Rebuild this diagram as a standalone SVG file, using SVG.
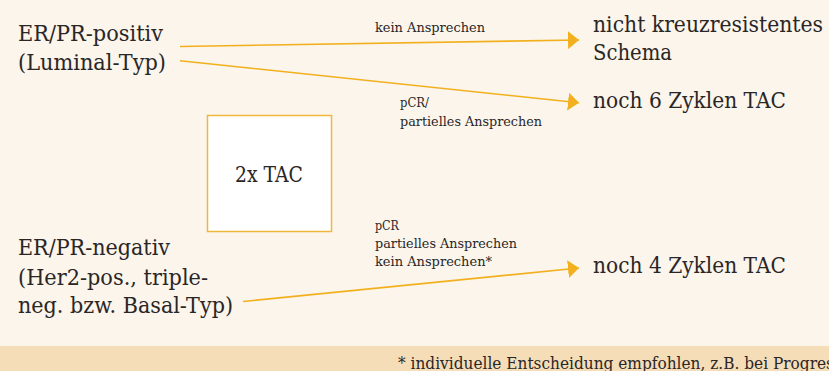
<svg xmlns="http://www.w3.org/2000/svg" width="829" height="371" viewBox="0 0 829 371">
<defs>
<style>
.big{font-family:"DejaVu Serif","Liberation Serif",serif;font-size:23px;fill:#2a2626}
.sm{font-family:"DejaVu Serif","Liberation Serif",serif;font-size:13.5px;fill:#2a2626}
.ft{font-family:"DejaVu Serif","Liberation Serif",serif;font-size:16.5px;fill:#2a2626}
.conn{stroke:#F2B01E;stroke-width:1.6;fill:none}
</style>
<marker id="ah" markerWidth="12" markerHeight="18" refX="11" refY="9" orient="auto" markerUnits="userSpaceOnUse">
<path d="M0,0 L11,9 L0,18 Z" fill="#F2B01E"/>
</marker>
</defs>
<rect x="0" y="0" width="829" height="371" fill="#FBF5EC"/>
<rect x="0" y="346" width="829" height="25" fill="#F5DDB8"/>

<g id="connectors">
<line class="conn" x1="180" y1="46.5" x2="579" y2="40" marker-end="url(#ah)"/>
<line class="conn" x1="180" y1="60.7" x2="579" y2="102.7" marker-end="url(#ah)"/>
<line class="conn" x1="243" y1="301.5" x2="579" y2="268" marker-end="url(#ah)"/>
<text class="sm" x="375" y="31.5" textLength="110" lengthAdjust="spacingAndGlyphs">kein Ansprechen</text>
<text class="sm" x="400" y="107" textLength="29" lengthAdjust="spacingAndGlyphs">pCR/</text>
<text class="sm" x="400" y="126" textLength="142" lengthAdjust="spacingAndGlyphs">partielles Ansprechen</text>
<text class="sm" x="375" y="230" textLength="24" lengthAdjust="spacingAndGlyphs">pCR</text>
<text class="sm" x="375" y="248" textLength="142" lengthAdjust="spacingAndGlyphs">partielles Ansprechen</text>
<text class="sm" x="375" y="266" textLength="117" lengthAdjust="spacingAndGlyphs">kein Ansprechen*</text>
</g>

<g id="er-pos">
<text class="big" x="18" y="41" textLength="145" lengthAdjust="spacingAndGlyphs">ER/PR-positiv</text>
<text class="big" x="18" y="70" textLength="148" lengthAdjust="spacingAndGlyphs">(Luminal-Typ)</text>
</g>

<g id="tac2x">
<rect x="207.5" y="115.5" width="124" height="116" fill="#FFFFFF" stroke="#F0B83A" stroke-width="1.5"/>
<text class="big" x="235" y="182" font-size="20" textLength="68" lengthAdjust="spacingAndGlyphs">2x TAC</text>
</g>

<g id="er-neg">
<text class="big" x="18" y="255" textLength="152" lengthAdjust="spacingAndGlyphs">ER/PR-negativ</text>
<text class="big" x="18" y="285" textLength="190" lengthAdjust="spacingAndGlyphs">(Her2-pos., triple-</text>
<text class="big" x="18" y="313" textLength="215" lengthAdjust="spacingAndGlyphs">neg. bzw. Basal-Typ)</text>
</g>

<g id="schema">
<text class="big" x="593" y="31.5" textLength="230" lengthAdjust="spacingAndGlyphs">nicht kreuzresistentes</text>
<text class="big" x="593" y="60" textLength="79" lengthAdjust="spacingAndGlyphs">Schema</text>
</g>

<g id="tac6">
<text class="big" x="593" y="108" textLength="193" lengthAdjust="spacingAndGlyphs">noch 6 Zyklen TAC</text>
</g>

<g id="tac4">
<text class="big" x="593" y="273" textLength="193" lengthAdjust="spacingAndGlyphs">noch 4 Zyklen TAC</text>
</g>

<g id="footer">
<text class="ft" x="398" y="368.5" textLength="436" lengthAdjust="spacingAndGlyphs">* individuelle Entscheidung empfohlen, z.B. bei Progres</text>
</g>
</svg>
